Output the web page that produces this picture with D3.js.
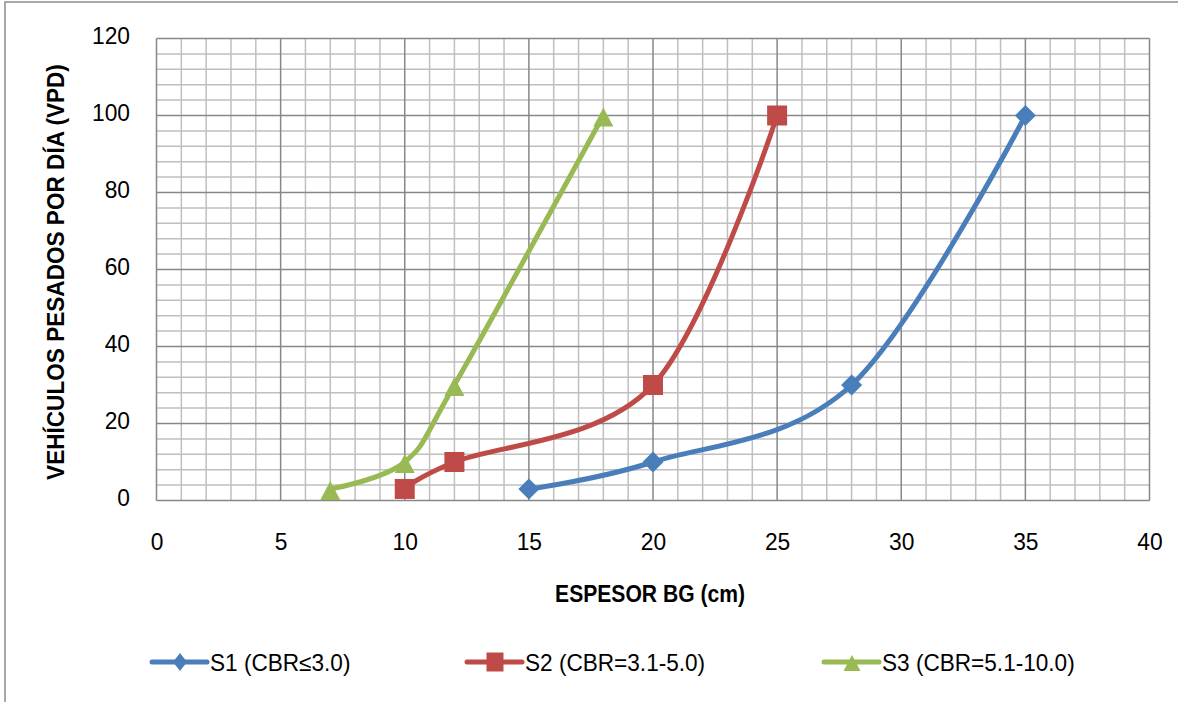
<!DOCTYPE html>
<html><head><meta charset="utf-8">
<script src="https://cdn.jsdelivr.net/npm/d3@7"></script>
<style>body{margin:0;background:#fff}svg{display:block}</style>
</head><body>
<svg id="c" width="1178" height="702"></svg>
<script>
const s1X = [15, 20, 28, 35];
const s1Y = [3, 10, 30, 100];
const s2X = [10, 12, 20, 25];
const s2Y = [3, 10, 30, 100];
const s3X = [7, 10, 12, 18];
const s3Y = [3, 10, 30, 100];
const seriesNames = ["S1 (CBR≤3.0)", "S2 (CBR=3.1-5.0)", "S3 (CBR=5.1-10.0)"];
const xTicks = [0, 5, 10, 15, 20, 25, 30, 35, 40];
const yTicks = [0, 20, 40, 60, 80, 100, 120];
const xTitle = "ESPESOR BG (cm)";
const yTitle = "VEHÍCULOS PESADOS POR DÍA (VPD)";

const font = "'Liberation Sans','Arial',sans-serif";
const svg = d3.select("#c");
const L = 156.5, R = 1149.5, T = 38.5, B = 500.5;
const x = d3.scaleLinear().domain([0, 40]).range([L, R]);
const y = d3.scaleLinear().domain([0, 120]).range([B, T]);

// outer frame
svg.append("rect").attr("x", 5).attr("y", 2).attr("width", 1200).attr("height", 800)
  .attr("fill", "none").attr("stroke", "#8c8c8c").attr("stroke-width", 1.5);

// minor grid
const g = svg.append("g");
g.selectAll(".mx").data(d3.range(1, 40).filter(v => v % 5)).join("line")
  .attr("x1", d => x(d)).attr("x2", d => x(d)).attr("y1", T).attr("y2", B)
  .attr("stroke", "#bfbfbf").attr("stroke-width", 1.5);
g.selectAll(".my").data(d3.range(4, 120, 4).filter(v => v % 20)).join("line")
  .attr("y1", d => y(d)).attr("y2", d => y(d)).attr("x1", L).attr("x2", R)
  .attr("stroke", "#bfbfbf").attr("stroke-width", 1.5);
// major grid
g.selectAll(".Mx").data(xTicks).join("line")
  .attr("x1", d => x(d)).attr("x2", d => x(d)).attr("y1", T).attr("y2", B)
  .attr("stroke", "#878787").attr("stroke-width", 1.5);
g.selectAll(".My").data(yTicks).join("line")
  .attr("y1", d => y(d)).attr("y2", d => y(d)).attr("x1", L).attr("x2", R)
  .attr("stroke", "#878787").attr("stroke-width", 1.5);

// axes labels via d3 axes
const tsx = 0.97, tfs = 23.5;
const xa = svg.append("g").attr("transform", `translate(0,${B})`)
  .call(d3.axisBottom(x).tickValues(xTicks).tickSize(0).tickPadding(0));
const ya = svg.append("g").attr("transform", `translate(${L},0)`)
  .call(d3.axisLeft(y).tickValues(yTicks).tickSize(0).tickPadding(0));
[xa, ya].forEach(a => {
  a.select(".domain").remove();
  a.selectAll("text").attr("font-family", font).attr("font-size", tfs).attr("fill", "#000");
});
ya.selectAll("text").attr("x", -26.5 / tsx).attr("y", 0).attr("dy", "0.23em").attr("transform", `scale(${tsx},1)`);
xa.selectAll("text").attr("y", 49.5).attr("dy", 0).attr("transform", `scale(${tsx},1)`)
  .attr("x", function () { return 0; });
xa.selectAll(".tick").each(function () {
  const t = d3.select(this).select("text");
  t.attr("transform", `scale(${tsx},1)`);
});

function label(tx, ty, rot, sx, size, bold, txt, anchor) {
  const gg = svg.append("g").attr("transform", `translate(${tx},${ty}) rotate(${rot}) scale(${sx},1)`);
  gg.append("text").attr("text-anchor", anchor).attr("font-family", font)
    .attr("font-weight", bold ? "bold" : "normal").attr("font-size", size).attr("fill", "#000").text(txt);
}
label(650, 602, 0, 0.905, 23.3, true, xTitle, "middle");
label(64, 272, -90, 0.97, 23.3, true, yTitle, "middle");

const colors = ["#4a7ebb", "#be4b48", "#98b954"];
const data = [d3.zip(s1X, s1Y), d3.zip(s2X, s2Y), d3.zip(s3X, s3Y)];
const line = d3.line().x(d => x(d[0])).y(d => y(d[1])).curve(d3.curveCardinal.tension(0));
const markerPaths = [
  "M0,-10.5L10.5,0L0,10.5L-10.5,0Z",
  "M-10,-10H10V10H-10Z",
  "M0,-8L10,11L-10,11Z"
];
const legendMarkerPaths = [
  "M0,-9L7,0L0,9L-7,0Z",
  "M-8.5,-9.5H8.5V9.5H-8.5Z",
  "M0,-7L8.5,9L-8.5,9Z"
];

data.forEach((pts, i) => {
  svg.append("path").attr("d", line(pts)).attr("fill", "none")
    .attr("stroke", colors[i]).attr("stroke-width", 5).attr("stroke-linecap", "round");
});
data.forEach((pts, i) => {
  svg.selectAll(null).data(pts).join("path")
    .attr("transform", d => `translate(${x(d[0])},${y(d[1])})`)
    .attr("d", markerPaths[i]).attr("fill", colors[i]);
});

// legend
const legX = [152, 467, 824];
seriesNames.forEach((n, i) => {
  const lg = svg.append("g").attr("transform", `translate(${legX[i]},662)`);
  lg.append("line").attr("x1", 0).attr("x2", 55).attr("stroke", colors[i])
    .attr("stroke-width", 5).attr("stroke-linecap", "round");
  lg.append("path").attr("transform", "translate(28,0)").attr("d", legendMarkerPaths[i]).attr("fill", colors[i]);
  const tg = lg.append("g").attr("transform", "translate(58,8.5) scale(0.97,1)");
  tg.append("text").attr("font-family", font).attr("font-size", 23.3).attr("fill", "#000").text(n);
});
</script>
</body></html>
